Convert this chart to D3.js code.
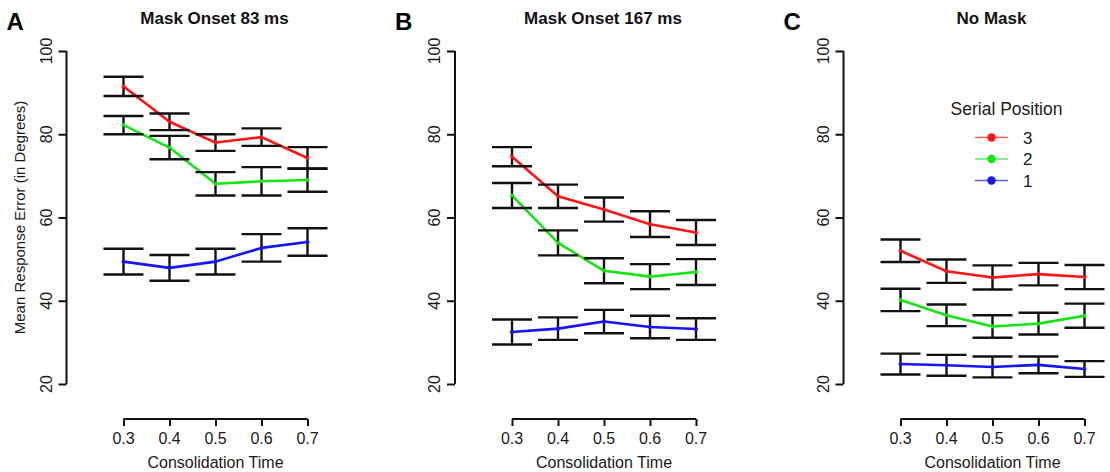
<!DOCTYPE html>
<html><head><meta charset="utf-8">
<script src="https://cdn.jsdelivr.net/npm/d3@7"></script>
<style>
html,body{margin:0;padding:0;background:#fff;}
svg{display:block;font-family:"Liberation Sans",Arial,Helvetica,sans-serif;}
</style></head>
<body>
<svg id="chart" width="1110" height="472"></svg>
<script>
// ---- data ----
const consolidationTimes = [0.3, 0.4, 0.5, 0.6, 0.7];
const xTickLabels = ["0.3", "0.4", "0.5", "0.6", "0.7"];
const yTicks = [20, 40, 60, 80, 100];
const panelLetters = ["A", "B", "C"];
const panelTitles = ["Mask Onset 83 ms", "Mask Onset 167 ms", "No Mask"];
const seriesNames = ["3", "2", "1"];

// Panel A (mask onset 83 ms)
const a_pos3 = [91.5, 83.0, 78.0, 79.3, 74.3];
const a_pos3_se = [2.3, 2.0, 2.0, 2.1, 2.6];
const a_pos2 = [82.2, 76.8, 68.1, 68.7, 69.0];
const a_pos2_se = [2.2, 2.8, 2.8, 3.4, 2.8];
const a_pos1 = [49.4, 47.9, 49.4, 52.7, 54.1];
const a_pos1_se = [3.1, 3.1, 3.1, 3.3, 3.3];

// Panel B (mask onset 167 ms)
const b_pos3 = [74.6, 65.1, 61.9, 58.4, 56.4];
const b_pos3_se = [2.3, 2.8, 2.9, 3.1, 3.0];
const b_pos2 = [65.3, 53.9, 47.2, 45.8, 46.9];
const b_pos2_se = [3.0, 3.0, 3.0, 3.0, 3.1];
const b_pos1 = [32.5, 33.3, 35.0, 33.7, 33.2];
const b_pos1_se = [3.0, 2.7, 2.8, 2.7, 2.6];

// Panel C (no mask)
const c_pos3 = [52.0, 47.1, 45.6, 46.4, 45.7];
const c_pos3_se = [2.7, 2.8, 2.9, 2.7, 2.9];
const c_pos2 = [40.2, 36.5, 33.8, 34.5, 36.4];
const c_pos2_se = [2.7, 2.6, 2.7, 2.6, 2.9];
const c_pos1 = [24.8, 24.5, 24.1, 24.6, 23.6];
const c_pos1_se = [2.5, 2.5, 2.5, 2.0, 1.9];

const panelData = [
  [[a_pos3, a_pos3_se], [a_pos2, a_pos2_se], [a_pos1, a_pos1_se]],
  [[b_pos3, b_pos3_se], [b_pos2, b_pos2_se], [b_pos1, b_pos1_se]],
  [[c_pos3, c_pos3_se], [c_pos2, c_pos2_se], [c_pos1, c_pos1_se]]
];

// ---- styling / layout ----
const colors = ["#ff1414", "#14e614", "#1414ff"];
const legendColors = ["#ff5a5a", "#5aee5a", "#5a5aff"];
const axisXs = [66.5, 455, 843.5];
const svg = d3.select("#chart");

const y = d3.scaleLinear().domain([20, 100]).range([384, 51]);

panelData.forEach((series, p) => {
  const ax = axisXs[p];
  const x = d3.scaleLinear().domain([0.3, 0.7]).range([ax + 57, ax + 241]);
  const g = svg.append("g");

  // y axis
  const yAxis = g.append("g").attr("transform", `translate(${ax},0)`)
    .call(d3.axisLeft(y).tickValues(yTicks).tickSize(8).tickFormat(() => ""));
  yAxis.select(".domain").attr("d", `M0,${y(20)}V${y(100)}`).attr("stroke", "#111").attr("stroke-width", 2);
  yAxis.selectAll(".tick line").attr("stroke", "#111").attr("stroke-width", 2);
  g.selectAll(".ylab").data(yTicks).enter().append("text")
    .attr("transform", d => `translate(${ax - 15},${y(d)}) rotate(-90)`)
    .attr("text-anchor", "middle").attr("font-size", 16).attr("fill", "#1a1a1a")
    .text(d => d);

  // x axis
  const xAxis = g.append("g").attr("transform", "translate(0,419)")
    .call(d3.axisBottom(x).tickValues(consolidationTimes).tickSize(7).tickFormat(() => ""));
  xAxis.select(".domain").attr("d", `M${x(0.3)},0H${x(0.7)}`).attr("stroke", "#111").attr("stroke-width", 2);
  xAxis.selectAll(".tick line").attr("stroke", "#111").attr("stroke-width", 2);
  g.selectAll(".xlab").data(consolidationTimes).enter().append("text")
    .attr("x", d => x(d)).attr("y", 443.5)
    .attr("text-anchor", "middle").attr("font-size", 16).attr("fill", "#1a1a1a")
    .text((d, i) => xTickLabels[i]);
  g.append("text").attr("x", (x(0.3) + x(0.7)) / 2).attr("y", 468)
    .attr("text-anchor", "middle").attr("font-size", 16).attr("fill", "#1a1a1a")
    .text("Consolidation Time");

  // title and letter
  g.append("text").attr("x", (x(0.3) + x(0.7)) / 2 - 1).attr("y", 24)
    .attr("text-anchor", "middle").attr("font-size", 17).attr("font-weight", "bold").attr("fill", "#111")
    .text(panelTitles[p]);
  g.append("text").attr("x", ax - 60).attr("y", 30)
    .attr("font-size", 24).attr("font-weight", "bold").attr("fill", "#000")
    .text(panelLetters[p]);

  // series lines
  const line = d3.line().x((d, i) => x(consolidationTimes[i])).y(d => y(d));
  series.forEach(([vals, se], s) => {
    g.append("path").datum(vals).attr("d", line)
      .attr("fill", "none").attr("stroke", colors[s]).attr("stroke-width", 2.6)
      .attr("stroke-linejoin", "round");
  });
  // error bars
  series.forEach(([vals, se], s) => {
    const eb = g.append("g");
    vals.forEach((v, i) => {
      const cx = x(consolidationTimes[i]);
      const top = y(v + se[i]), bot = y(v - se[i]);
      eb.append("line").attr("x1", cx).attr("x2", cx).attr("y1", top).attr("y2", bot)
        .attr("stroke", "#111").attr("stroke-width", 2.4);
      [top, bot].forEach(yy => eb.append("line").attr("x1", cx - 20).attr("x2", cx + 20)
        .attr("y1", yy).attr("y2", yy).attr("stroke", "#111").attr("stroke-width", 2.4));
    });
  });
  // points
  series.forEach(([vals, se], s) => {
    g.selectAll(null).data(vals).enter().append("circle")
      .attr("cx", (d, i) => x(consolidationTimes[i])).attr("cy", d => y(d))
      .attr("r", 2).attr("fill", colors[s]);
  });

  // y title only for first panel
  if (p === 0) {
    g.append("text").attr("transform", `translate(24.5,${(y(20) + y(100)) / 2}) rotate(-90)`)
      .attr("text-anchor", "middle").attr("font-size", 15).attr("fill", "#1a1a1a")
      .text("Mean Response Error (in Degrees)");
  }
});

// legend in panel C
const lg = svg.append("g");
lg.append("text").attr("x", 1006.5).attr("y", 115).attr("text-anchor", "middle")
  .attr("font-size", 17.5).attr("fill", "#1a1a1a").text("Serial Position");
seriesNames.forEach((name, i) => {
  const yy = 137.5 + i * 21.5;
  lg.append("line").attr("x1", 975).attr("x2", 1008).attr("y1", yy).attr("y2", yy)
    .attr("stroke", legendColors[i]).attr("stroke-width", 1.5);
  lg.append("circle").attr("cx", 991.5).attr("cy", yy).attr("r", 4.2).attr("fill", colors[i]);
  lg.append("text").attr("x", 1023).attr("y", yy + 6).attr("font-size", 17).attr("fill", "#1a1a1a").text(name);
});
</script>
</body></html>
